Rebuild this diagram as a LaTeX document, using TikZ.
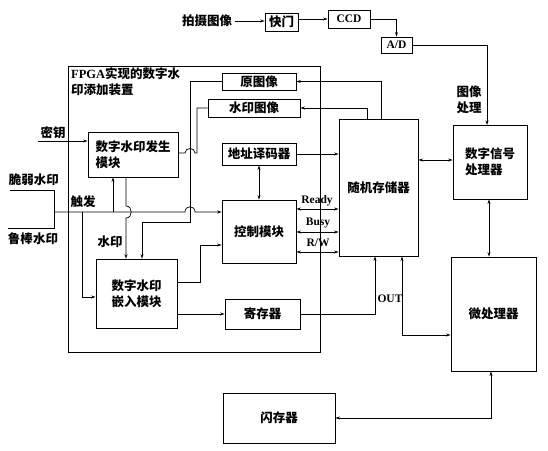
\documentclass[tikz,border=0pt]{standalone}
\usepackage{fontspec}
\setmainfont{Liberation Serif}
\newfontfamily\cjk{Noto Sans CJK SC}
\usetikzlibrary{arrows.meta}
\begin{document}
\begin{tikzpicture}[x=1pt,y=-1pt,
  box/.style={draw, line width=0.9pt, inner sep=0pt, align=center,
    font=\cjk\bfseries\fontsize{12.5}{16}\selectfont},
  lbl/.style={inner sep=0pt, align=center, font=\cjk\bfseries\fontsize{12.5}{16}\selectfont},
  latin/.style={inner sep=0pt, font=\bfseries\fontsize{11.5}{14}\selectfont},
  conn/.style={line width=0.7pt},
  arr/.style={conn,-{Stealth[length=4.5pt,width=3pt]}},
  darr/.style={conn,{Stealth[length=4.5pt,width=3pt]}-{Stealth[length=4.5pt,width=3pt]}}]
\useasboundingbox (0,0) rectangle (548,450);
% FPGA frame
\node[draw, line width=0.9pt, minimum width=252pt, minimum height=286pt, inner sep=0pt] (fpga) at (194,209) {};
\node[lbl, anchor=north west, align=left] (title) at (71,67) {{\rmfamily\bfseries FPGA}实现的数字水\\印添加装置};
% boxes
\node[box, minimum width=74pt, minimum height=17pt] (yuan) at (259,81.5) {原图像};
\node[box, minimum width=92pt, minimum height=18pt] (syt) at (254,108) {水印图像};
\node[box, minimum width=90pt, minimum height=45pt, align=left] (gen) at (133,154.5) {数字水印发生\\模块};
\node[box, minimum width=74pt, minimum height=22pt] (addr) at (259,154) {地址译码器};
\node[box, minimum width=74pt, minimum height=63pt] (ctrl) at (259,231.5) {控制模块};
\node[box, minimum width=81pt, minimum height=69pt] (embed) at (136.5,293.5) {数字水印\\嵌入模块};
\node[box, minimum width=75pt, minimum height=30pt] (reg) at (262.5,314) {寄存器};
\node[box, minimum width=79pt, minimum height=137pt] (ram) at (378.5,187.5) {随机存储器};
\node[box, minimum width=74pt, minimum height=74pt, align=left] (dsp) at (490,162) {数字信号\\处理器};
\node[box, minimum width=85pt, minimum height=114pt] (mcu) at (493.5,314) {微处理器};
\node[box, minimum width=112pt, minimum height=50pt] (flash) at (279,418) {闪存器};
\node[box, minimum width=33pt, minimum height=18pt] (shut) at (281.5,22) {快门};
\node[box, minimum width=42pt, minimum height=18pt, font=\bfseries\fontsize{11.5}{14}\selectfont] (ccd) at (349,19) {CCD};
\node[box, minimum width=31pt, minimum height=16pt, font=\bfseries\fontsize{11.5}{14}\selectfont] (ad) at (396.5,45) {A/D};
% labels
\node[lbl] (shoot) at (207,21) {拍摄图像};
\node[lbl] (tuxiang) at (469,100) {图像\\处理};
\node[lbl] (miyao) at (53,133) {密钥};
\node[lbl] (cuiruo) at (34,180) {脆弱水印};
\node[lbl] (lubang) at (33,239) {鲁棒水印};
\node[lbl] (chufa) at (83,202) {触发};
\node[lbl] (shuiyin) at (110,242) {水印};
\node[latin] (ready) at (317,201) {Ready};
\node[latin] (busy) at (318,223) {Busy};
\node[latin] (rw) at (318,243) {R/W};
\node[latin] (out) at (390,299) {OUT};
% coordinates
\coordinate (fragL) at (10,190);
\coordinate (robL) at (8,228);
\coordinate (trig) at (54,212);
% top chain
\draw[arr] ([xshift=3pt]shoot.east) -- (shut.west |- shoot.east);
\draw[arr] (shut.east |- ccd.west) -- (ccd.west);
\draw[arr] (ccd.east) -| (ad.north);
\draw[arr] (ad.east) -| (487,125);
% RAM to image boxes
\draw[arr] (381,119) |- (yuan.east);
\draw[arr] (367,119) |- (syt.east);
\draw[arr] (addr.east) -- (ram.west |- addr.east);
\draw[darr] (addr.south) -- (ctrl.north);
\draw[darr] (ctrl.east |- 0,209) -- (ram.west |- 0,209);
\draw[darr] (ctrl.east |- 0,232) -- (ram.west |- 0,232);
\draw[darr] (ctrl.east |- 0,252) -- (ram.west |- 0,252);
\draw[darr] (ram.east |- 0,160) -- (dsp.west |- 0,160);
\draw[darr] (dsp.south -| 489,0) -- (mcu.north -| 489,0);
\draw[darr] (ram.south -| 402,0) |- (mcu.west |- 0,335);
\draw[darr] (mcu.south -| 491,0) |- (flash.east);
\draw[arr] (reg.east) -| (ram.south -| 375,0);
% inside FPGA
\draw[arr] (embed.east |- reg.west) -- (reg.west);
\draw[arr] (embed.east |- 0,282) -- (200,282) -- (200,245) -- (ctrl.west |- 0,245);
% key
\draw[arr] (38,141) -- (gen.west |- 0,141);
% trigger inputs
\draw[conn] (fragL) -- (54,190) -- (54,228) -- (robL);
\draw[arr] (trig) -- (185,212) .. controls (185,205) and (195,205) .. (195,212) -- (ctrl.west |- 0,212);
\draw[arr] (113,212) -- (gen.south -| 113,0);
\draw[arr] (82,212) -- (82,297) -- (embed.west |- 0,297);
% watermark from generator to embed
\draw[arr] (gen.south -| 126,0) -- (126,206) .. controls (133,206) and (133,218) .. (126,218) -- (embed.north -| 126,0);
% original image to embed
\draw[arr] (yuan.west) -- (190,81.5) -- (190,222) -- (142,222) -- (embed.north -| 142,0);
% generator to watermark image
\draw[conn] (gen.east |- 0,153) -- (185,153) .. controls (185,147) and (195,147) .. (195,153) -- (197,153) -- (197,108) -- (syt.west);
\end{tikzpicture}
\end{document}
